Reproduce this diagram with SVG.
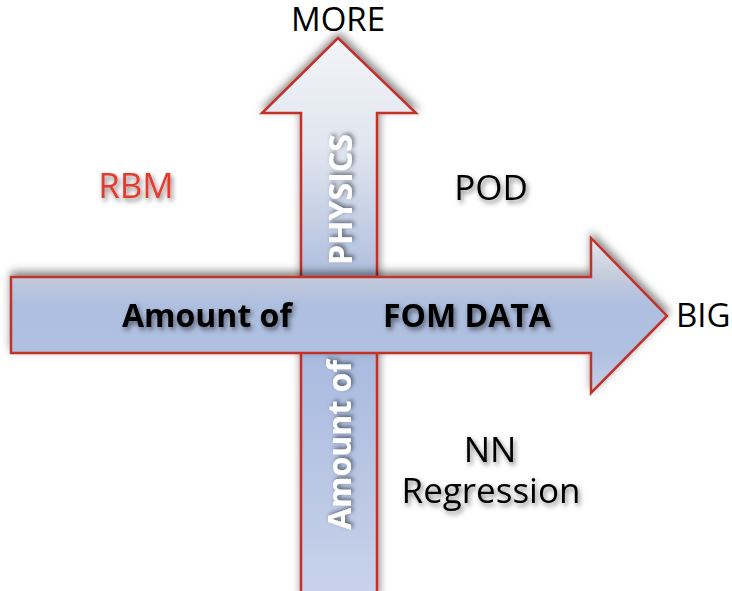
<svg xmlns="http://www.w3.org/2000/svg" width="732" height="591" viewBox="0 0 732 591">
  <defs>
    <linearGradient id="gradV" gradientUnits="userSpaceOnUse" x1="0" y1="38" x2="0" y2="591">
      <stop offset="0" stop-color="#f3f4f8"/>
      <stop offset="0.2" stop-color="#e0e5ef"/>
      <stop offset="0.4" stop-color="#b6c4e1"/>
      <stop offset="0.58" stop-color="#a9bbdf"/>
      <stop offset="1" stop-color="#c8d2ea"/>
    </linearGradient>
    <linearGradient id="gradH" gradientUnits="userSpaceOnUse" x1="0" y1="238" x2="0" y2="393">
      <stop offset="0" stop-color="#e6e8ee"/>
      <stop offset="0.25" stop-color="#c4cbdb"/>
      <stop offset="0.42" stop-color="#aebfe0"/>
      <stop offset="0.75" stop-color="#afc0e1"/>
      <stop offset="1" stop-color="#c8d2ea"/>
    </linearGradient>
    <filter id="arrowShadow" x="-10%" y="-10%" width="120%" height="120%">
      <feDropShadow dx="1" dy="-4" stdDeviation="4" flood-color="#000" flood-opacity="0.5"/>
    </filter>
    <filter id="textShadow" x="-10%" y="-20%" width="130%" height="150%">
      <feDropShadow dx="2" dy="3" stdDeviation="2.5" flood-color="#000" flood-opacity="0.5"/>
    </filter>
    <filter id="textShadowV" x="-30%" y="-10%" width="160%" height="130%">
      <feDropShadow dx="2" dy="2" stdDeviation="2" flood-color="#000" flood-opacity="0.5"/>
    </filter>
  </defs>
  <style>
    .arrow { stroke: #c0302a; stroke-width: 2.5; stroke-linejoin: miter; }
    .lbl { font-family: "Open Sans", "Liberation Sans", sans-serif; font-size: 35px; }
    .axis { font-size: 33px; }
    .ink { fill: #000; }
    .red { fill: #e53a2f; }
    .bold { font-family: "Open Sans", "Liberation Sans", sans-serif; font-weight: bold; font-size: 32px; }
    .white { fill: #fff; filter: url(#textShadowV); }
    .shadow { filter: url(#textShadow); }
  </style>

  <g id="connectors">
    <!-- vertical axis arrow: amount of physics -->
    <g id="arrow-physics" filter="url(#arrowShadow)">
      <polygon class="arrow" fill="url(#gradV)" points="338,38 416,113 377,113 377,600 301,600 301,113 262,113"/>
    </g>
    <!-- horizontal axis arrow: amount of FOM data -->
    <g id="arrow-data" filter="url(#arrowShadow)">
      <polygon class="arrow" fill="url(#gradH)" points="11,277 591,277 591,238 667,316 591,393 591,353 11,353"/>
    </g>
  </g>

  <!-- text carried by the arrows -->
  <g id="arrow-text">
    <text class="bold white" transform="translate(352,265) rotate(-90)">PHYSICS</text>
    <text class="bold white" transform="translate(351,530) rotate(-90)">Amount of</text>
    <text class="bold ink shadow" x="122" y="327">Amount of</text>
    <text class="bold ink shadow" x="383" y="327" font-size="31">FOM DATA</text>
  </g>

  <!-- axis ends -->
  <g id="axis-more"><text class="lbl axis ink" x="338" y="31" text-anchor="middle">MORE</text></g>
  <g id="axis-big"><text class="lbl axis ink" x="676" y="327">BIG</text></g>

  <!-- quadrant methods -->
  <g id="node-rbm"><text class="lbl red shadow" x="136" y="198" text-anchor="middle">RBM</text></g>
  <g id="node-pod"><text class="lbl ink shadow" x="491" y="200" text-anchor="middle">POD</text></g>
  <g id="node-nn">
    <text class="lbl ink shadow" x="490" y="462" text-anchor="middle">NN</text>
    <text class="lbl ink shadow" x="491" y="503" text-anchor="middle">Regression</text>
  </g>
</svg>
